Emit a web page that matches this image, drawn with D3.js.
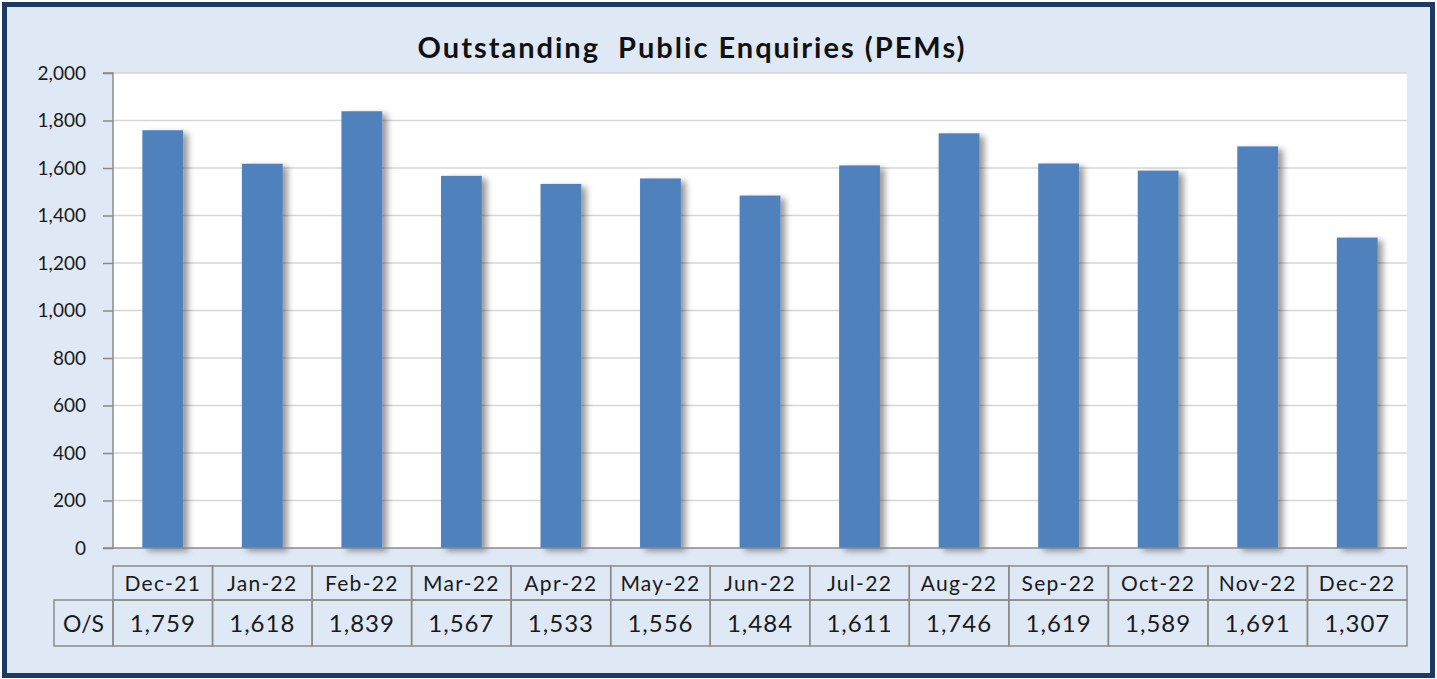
<!DOCTYPE html>
<html>
<head>
<meta charset="utf-8">
<script src="https://cdn.jsdelivr.net/npm/d3@7"></script>
<style>
  html, body { margin: 0; padding: 0; background: #ffffff; }
  svg { display: block; font-family: Lato, "Open Sans", sans-serif; }
</style>
</head>
<body>
<div id="chart"></div>
<script>
// data (table row gives exact values)
const months = ["Dec-21", "Jan-22", "Feb-22", "Mar-22", "Apr-22", "May-22", "Jun-22",
                "Jul-22", "Aug-22", "Sep-22", "Oct-22", "Nov-22", "Dec-22"];
const outstanding = [1759, 1618, 1839, 1567, 1533, 1556, 1484, 1611, 1746, 1619, 1589, 1691, 1307];
const yTicks = [0, 200, 400, 600, 800, 1000, 1200, 1400, 1600, 1800, 2000];
const seriesName = "O/S";
const title = "Outstanding\u00a0 Public Enquiries (PEMs)";

const width = 1437;
const height = 679;
const plotLeft = 113, plotRight = 1407, plotTop = 73, plotBottom = 548;
const headTop = 566, headBottom = 600, rowBottom = 646, labelLeft = 54;

const svg = d3.select("#chart").append("svg")
  .attr("width", width)
  .attr("height", height)
  .attr("viewBox", [0, 0, width, height]);

const defs = svg.append("defs");
defs.append("filter")
  .attr("id", "shadow")
  .attr("x", "-30%").attr("y", "-10%")
  .attr("width", "180%").attr("height", "130%")
  .append("feDropShadow")
  .attr("dx", 5).attr("dy", 3)
  .attr("stdDeviation", 3)
  .attr("flood-color", "#000")
  .attr("flood-opacity", 0.4);

// panel + dark frame
svg.append("rect")
  .attr("x", 4.5).attr("y", 4.5)
  .attr("width", width - 9).attr("height", height - 8)
  .attr("fill", "#dfe9f6")
  .attr("stroke", "#1d3a62")
  .attr("stroke-width", 5);

svg.append("text")
  .attr("x", 692).attr("y", 58)
  .attr("text-anchor", "middle")
  .attr("font-size", 29)
  .attr("font-weight", "bold")
  .attr("letter-spacing", 2)
  .attr("fill", "#111")
  .text(title);

const y = d3.scaleLinear().domain([0, 2000]).range([plotBottom, plotTop]);
const xCol = d3.scaleBand().domain(months).range([plotLeft, plotRight]);
const xBar = d3.scaleBand().domain(months).range([plotLeft, plotRight])
  .paddingInner(0.59).paddingOuter(0.295);

svg.append("rect")
  .attr("x", plotLeft).attr("y", plotTop)
  .attr("width", plotRight - plotLeft).attr("height", plotBottom - plotTop)
  .attr("fill", "#fff");

// grid lines
svg.append("g")
  .selectAll("line")
  .data(yTicks.filter((d) => d > 0))
  .join("line")
  .attr("x1", plotLeft).attr("x2", plotRight)
  .attr("y1", (d) => y(d)).attr("y2", (d) => y(d))
  .attr("stroke", "#d6d6d6")
  .attr("stroke-width", 1.5);

// y axis
const yAxis = svg.append("g")
  .attr("transform", `translate(${plotLeft},0)`)
  .call(d3.axisLeft(y).tickValues(yTicks).tickSize(10).tickPadding(17)
    .tickFormat(d3.format(",")));
yAxis.selectAll("path, line").attr("stroke", "#8a8a8a").attr("stroke-width", 1.5);
yAxis.select(".domain").attr("d", `M-10,${plotTop}H0V${plotBottom}H-10`);
yAxis.selectAll("text")
  .attr("font-size", 19)
  .attr("font-family", "Lato, sans-serif")
  .attr("fill", "#1a1a1a");

// bars
svg.append("g")
  .attr("filter", "url(#shadow)")
  .selectAll("rect")
  .data(months)
  .join("rect")
  .attr("x", (d) => xBar(d))
  .attr("width", xBar.bandwidth())
  .attr("y", (d, i) => y(outstanding[i]))
  .attr("height", (d, i) => y(0) - y(outstanding[i]))
  .attr("fill", "#4f81bd");

// x baseline
svg.append("line")
  .attr("x1", plotLeft).attr("x2", plotRight)
  .attr("y1", plotBottom).attr("y2", plotBottom)
  .attr("stroke", "#8a8a8a").attr("stroke-width", 1.5);

// data table
const table = svg.append("g");
const cellStroke = "#8c8c8c";

table.selectAll("rect.head")
  .data(months)
  .join("rect")
  .attr("class", "head")
  .attr("x", (d) => xCol(d)).attr("y", headTop)
  .attr("width", xCol.bandwidth()).attr("height", headBottom - headTop)
  .attr("fill", "none").attr("stroke", cellStroke).attr("stroke-width", 1.5);

table.selectAll("rect.val")
  .data(months)
  .join("rect")
  .attr("class", "val")
  .attr("x", (d) => xCol(d)).attr("y", headBottom)
  .attr("width", xCol.bandwidth()).attr("height", rowBottom - headBottom)
  .attr("fill", "none").attr("stroke", cellStroke).attr("stroke-width", 1.5);

table.append("rect")
  .attr("x", labelLeft).attr("y", headBottom)
  .attr("width", plotLeft - labelLeft).attr("height", rowBottom - headBottom)
  .attr("fill", "none").attr("stroke", cellStroke).attr("stroke-width", 1.5);

table.selectAll("text.head")
  .data(months)
  .join("text")
  .attr("class", "head")
  .attr("x", (d) => xCol(d) + xCol.bandwidth() / 2)
  .attr("y", headTop + 25)
  .attr("text-anchor", "middle")
  .attr("font-size", 21)
  .attr("letter-spacing", 1.3)
  .attr("fill", "#1a1a1a")
  .text((d) => d);

table.selectAll("text.val")
  .data(months)
  .join("text")
  .attr("class", "val")
  .attr("x", (d) => xCol(d) + xCol.bandwidth() / 2)
  .attr("y", headBottom + 32)
  .attr("text-anchor", "middle")
  .attr("font-size", 24)
  .attr("letter-spacing", 1)
  .attr("fill", "#1a1a1a")
  .text((d, i) => d3.format(",")(outstanding[i]));

table.append("text")
  .attr("x", (labelLeft + plotLeft) / 2)
  .attr("y", headBottom + 32)
  .attr("text-anchor", "middle")
  .attr("font-size", 23)
  .attr("fill", "#1a1a1a")
  .text(seriesName);
</script>
</body>
</html>
